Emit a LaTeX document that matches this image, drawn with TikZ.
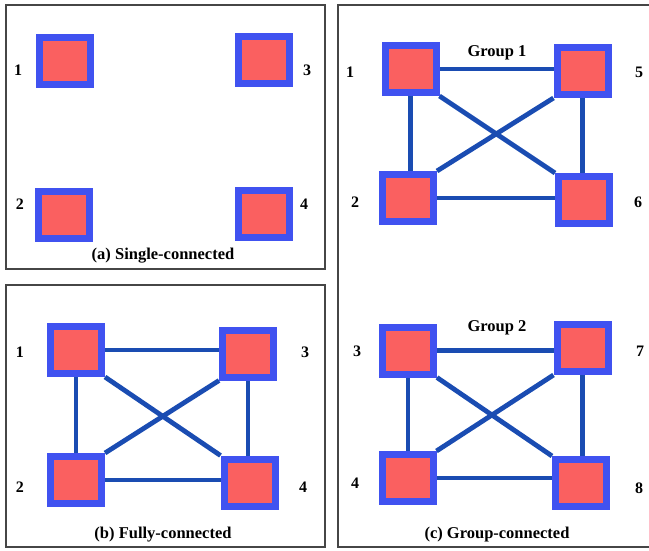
\documentclass[tikz,border=0pt]{standalone}
\usepackage{fontspec}
\setmainfont{Liberation Serif}
\usetikzlibrary{backgrounds}
\definecolor{nodeblue}{RGB}{64,82,240}
\definecolor{nodepink}{RGB}{250,96,96}
\definecolor{linkblue}{RGB}{26,76,178}
\definecolor{framegray}{RGB}{70,70,70}
\tikzset{
  unit/.style={draw=nodeblue, fill=nodepink, line width=7pt, inner sep=0pt,
    minimum width=51pt, minimum height=47pt},
  link/.style={draw=linkblue, line width=4.8pt},
  panel/.style={draw=framegray, line width=1.4pt},
  idx/.style={font=\bfseries\fontsize{16}{19}\selectfont, inner sep=0pt},
  caption/.style={font=\bfseries\fontsize{16.5}{19}\selectfont, inner sep=0pt},
}
% six links of a fully meshed square of four units: top-left, top-right, bottom-left, bottom-right
\newcommand{\meshlinks}[4]{%
  \begin{scope}[on background layer]
  \draw[link] (#1.east) -- (#1.east -| #2.west);
  \draw[link] (#3.east) -- (#3.east -| #4.west);
  \draw[link] (#1.south) -- (#1.south |- #3.north);
  \draw[link] (#2.south) -- (#2.south |- #4.north);
  \draw[link] (#1.south east) -- (#4.north west);
  \draw[link] (#2.south west) -- (#3.north east);
  \end{scope}}
\begin{document}
\begin{tikzpicture}[x=1pt,y=-1pt]
\useasboundingbox (0,0) rectangle (649,550);
\clip (0,0) rectangle (649,550);

% panel frames
\draw[panel] (6,5) rectangle (325,269);
\draw[panel] (6,285) rectangle (325,547);
\draw[panel] (338,5) rectangle (652,547);

% (a) single-connected
\node[unit] (a1) at (64.5,60.5) {};
\node[unit] (a3) at (263.5,60) {};
\node[unit] (a2) at (64,214.5) {};
\node[unit] (a4) at (263.5,213.5) {};
\node[idx] (la1) at (18,70) {1};
\node[idx] (la3) at (307,70) {3};
\node[idx] (la2) at (20,204) {2};
\node[idx] (la4) at (304,204) {4};
\node[caption] (ca) at (163,256) {(a) Single-connected};

% (b) fully-connected
\node[unit] (b1) at (76,350) {};
\node[unit] (b3) at (248,353.5) {};
\node[unit] (b2) at (76,480) {};
\node[unit] (b4) at (249.5,482.5) {};
\meshlinks{b1}{b3}{b2}{b4}
\node[idx] (lb1) at (20,352) {1};
\node[idx] (lb3) at (305,352) {3};
\node[idx] (lb2) at (20,487) {2};
\node[idx] (lb4) at (303,487) {4};
\node[caption] (cb) at (163,535) {(b) Fully-connected};

% (c) group-connected, group 1
\node[unit] (c1) at (410.5,69) {};
\node[unit] (c5) at (582.5,71) {};
\node[unit] (c2) at (408,198) {};
\node[unit] (c6) at (584,200) {};
\meshlinks{c1}{c5}{c2}{c6}
\node[idx] (lc1) at (350,72) {1};
\node[idx] (lc5) at (639,72) {5};
\node[idx] (lc2) at (355,202) {2};
\node[idx] (lc6) at (638,202) {6};
\node[caption] (g1) at (497,53) {Group 1};

% (c) group-connected, group 2
\node[unit] (c3) at (408,350.5) {};
\node[unit] (c7) at (582.5,348) {};
\node[unit] (c4) at (407.5,478) {};
\node[unit] (c8) at (581,483) {};
\meshlinks{c3}{c7}{c4}{c8}
\node[idx] (lc3) at (357,351) {3};
\node[idx] (lc7) at (640,351) {7};
\node[idx] (lc4) at (355,483) {4};
\node[idx] (lc8) at (639,488) {8};
\node[caption] (g2) at (497,328) {Group 2};
\node[caption] (cc) at (497,535) {(c) Group-connected};
\end{tikzpicture}
\end{document}
